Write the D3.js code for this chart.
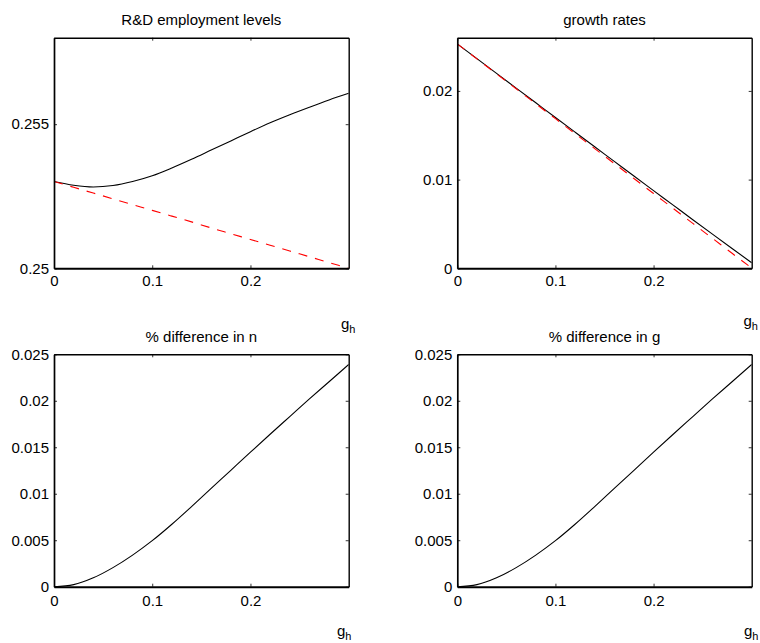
<!DOCTYPE html>
<html>
<head>
<meta charset="utf-8">
<script src="https://cdn.jsdelivr.net/npm/d3@7/dist/d3.min.js"></script>
<style>
  html, body { margin: 0; padding: 0; background: #fff; }
  svg { display: block; }
  text { font-family: "Liberation Sans", Arial, Helvetica, sans-serif; fill: #000; }
</style>
</head>
<body>
<svg id="chart" width="760" height="643"></svg>
<script>
// ---------- data ----------
const gh = [0, 0.02, 0.04, 0.06, 0.08, 0.10, 0.12, 0.14, 0.16, 0.18, 0.20, 0.22, 0.24, 0.26, 0.28, 0.30];

// R&D employment levels
const rdLevel    = [0.25301, 0.25288, 0.25282, 0.25287, 0.25301, 0.25321, 0.25348, 0.25378, 0.25410, 0.25442, 0.25474, 0.25505, 0.25533, 0.25559, 0.25584, 0.25607];
const rdLevelRef = [0.25301, 0.25281, 0.25261, 0.25241, 0.25221, 0.25201, 0.25181, 0.25161, 0.25140, 0.25120, 0.25100, 0.25080, 0.25060, 0.25040, 0.25020, 0.25000];

// growth rates
const growthRate    = [0.02530, 0.02364, 0.02198, 0.02032, 0.01866, 0.01700, 0.01535, 0.01370, 0.01205, 0.01040, 0.00876, 0.00712, 0.00548, 0.00385, 0.00223, 0.00063];
const growthRateRef = [0.02530, 0.02361, 0.02192, 0.02024, 0.01855, 0.01687, 0.01518, 0.01350, 0.01181, 0.01012, 0.00843, 0.00675, 0.00506, 0.00338, 0.00169, 0.00003];

// % differences
const pctDiffN = [0, 0.00022, 0.00095, 0.00205, 0.00340, 0.00495, 0.00672, 0.00862, 0.01057, 0.01252, 0.01447, 0.01640, 0.01830, 0.02020, 0.02205, 0.02390];
const pctDiffG = [0, 0.00022, 0.00095, 0.00205, 0.00340, 0.00495, 0.00672, 0.00862, 0.01057, 0.01252, 0.01447, 0.01640, 0.01830, 0.02020, 0.02205, 0.02390];

// axes, ticks, titles
const titles   = ["R&D employment levels", "growth rates", "% difference in n", "% difference in g"];
const xDomain  = [0, 0.3];
const xTicks   = [0, 0.1, 0.2];
const yDomains = [[0.25, 0.258], [0, 0.026], [0, 0.025], [0, 0.025]];
const yTicks   = [[0.25, 0.255], [0, 0.01, 0.02], [0, 0.005, 0.01, 0.015, 0.02, 0.025], [0, 0.005, 0.01, 0.015, 0.02, 0.025]];
const xLabelMain = "g";
const xLabelSub  = "h";

// ---------- layout ----------
const panels = [
  { left: 54,    right: 348.7, top: 37.7,  bottom: 268.3, titleY: 25,    xPad: 7,   glX: 341,   glY: 329,
    series: [{ v: rdLevel, color: "#000", dash: null }, { v: rdLevelRef, color: "#ff0000", dash: "9,8" }] },
  { left: 457.3, right: 751.7, top: 37.7,  bottom: 268.3, titleY: 25,    xPad: 7.5, glX: 743.5, glY: 326,
    series: [{ v: growthRate, color: "#000", dash: null }, { v: growthRateRef, color: "#ff0000", dash: "9,8" }] },
  { left: 54,    right: 348.7, top: 354.3, bottom: 586.7, titleY: 341.5, xPad: 9,   glX: 337,   glY: 635.5,
    series: [{ v: pctDiffN, color: "#000", dash: null }] },
  { left: 457.3, right: 751.7, top: 354.3, bottom: 586.7, titleY: 341.5, xPad: 9,   glX: 744,   glY: 636,
    series: [{ v: pctDiffG, color: "#000", dash: null }] }
];

const svg = d3.select("#chart");
const fmt = d => (d === 0 ? "0" : String(+d.toFixed(4)));

panels.forEach((p, i) => {
  const x = d3.scaleLinear().domain(xDomain).range([p.left, p.right]);
  const y = d3.scaleLinear().domain(yDomains[i]).range([p.bottom, p.top]);
  const g = svg.append("g");

  const clipId = "clip" + i;
  g.append("clipPath").attr("id", clipId).append("rect")
    .attr("x", p.left).attr("y", p.top - 1)
    .attr("width", p.right - p.left).attr("height", p.bottom - p.top + 2);

  const line = d3.line().x((d, k) => x(gh[k])).y(d => y(d)).curve(d3.curveMonotoneX);
  // black first, red dashed on top
  p.series.forEach(s => {
    g.append("path")
      .attr("clip-path", `url(#${clipId})`)
      .attr("d", line(s.v))
      .attr("fill", "none")
      .attr("stroke", s.color)
      .attr("stroke-width", 1.1)
      .attr("stroke-dasharray", s.dash);
  });

  const axB = d3.axisBottom(x).tickValues(xTicks).tickFormat(fmt).tickSizeInner(-3).tickSizeOuter(0).tickPadding(p.xPad);
  const axT = d3.axisTop(x).tickValues(xTicks).tickFormat("").tickSizeInner(-3).tickSizeOuter(0);
  const axL = d3.axisLeft(y).tickValues(yTicks[i]).tickFormat(fmt).tickSizeInner(-3).tickSizeOuter(0).tickPadding(5);
  const axR = d3.axisRight(y).tickValues(yTicks[i]).tickFormat("").tickSizeInner(-3).tickSizeOuter(0);

  const styleAxis = (sel, w) => {
    sel.select(".domain").attr("stroke", "#000").attr("stroke-width", w);
    sel.selectAll(".tick line").attr("stroke", "#000").attr("stroke-width", 0.8);
    sel.selectAll(".tick text").attr("font-size", 15).attr("font-family", '"Liberation Sans", Arial, sans-serif').attr("fill", "#000");
  };

  styleAxis(g.append("g").attr("transform", `translate(0,${p.top})`).call(axT), 1.4);
  styleAxis(g.append("g").attr("transform", `translate(${p.right},0)`).call(axR), 1.4);
  styleAxis(g.append("g").attr("transform", `translate(${p.left},0)`).call(axL), 1.7);
  styleAxis(g.append("g").attr("transform", `translate(0,${p.bottom})`).call(axB), 2);

  g.append("text")
    .attr("x", (p.left + p.right) / 2)
    .attr("y", p.titleY)
    .attr("text-anchor", "middle")
    .attr("font-size", 15)
    .text(titles[i]);

  const t = g.append("text").attr("x", p.glX).attr("y", p.glY).attr("font-size", 15);
  t.append("tspan").text(xLabelMain);
  t.append("tspan").attr("font-size", 11).attr("dy", 4).text(xLabelSub);
});
</script>
</body>
</html>
